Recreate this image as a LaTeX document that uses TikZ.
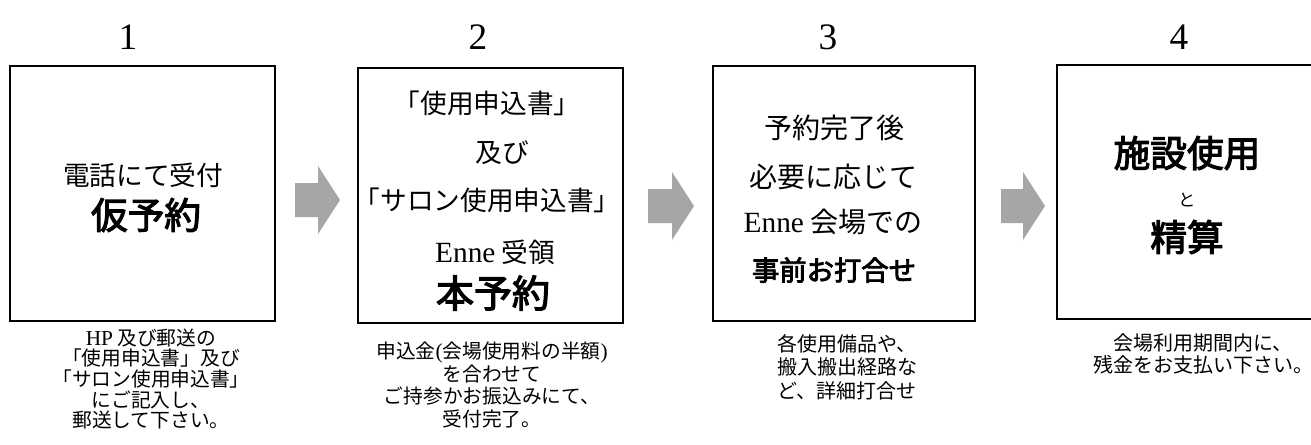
\documentclass[tikz,border=0pt]{standalone}
\usepackage{fontspec}
\setmainfont{Liberation Serif}
\newfontfamily\jp{Noto Sans CJK JP}
\newfontfamily\jpm[FakeBold=3]{Noto Sans CJK JP}
\newfontfamily\lat{Liberation Serif}
\definecolor{arrowgray}{HTML}{A6A6A6}
\newcommand\blockarrow[4]{% name, left x, center y, head start
  \fill[arrowgray] (#2,#3-17) -- (#4,#3-17) -- (#4,#3-34) -- (#4+22,#3) -- (#4,#3+34) -- (#4,#3+17) -- (#2,#3+17) -- cycle;
  \coordinate (#1) at (#2+22,#3);
}
\tikzset{
  box/.style={draw=black, line width=2pt, inner sep=0pt, fill=white},
  numtext/.style={font=\lat\fontsize{28pt}{30pt}\selectfont, inner sep=0pt},
  bt/.style={font=\jp\fontsize{20pt}{24pt}\selectfont, inner sep=0pt},
  bttwo/.style={font=\jp\fontsize{20pt}{24pt}\selectfont, inner sep=0pt},
  bigtext/.style={font=\jpm\fontsize{27.5pt}{32pt}\selectfont, inner sep=0pt},
  smalltext/.style={font=\jp\fontsize{13pt}{14pt}\selectfont, inner sep=0pt},
  captext/.style={align=center, inner sep=0pt},
}
\newcommand\En{{\lat\fontsize{22pt}{24pt}\selectfont Enne}}
\newcommand\HP{{\lat\fontsize{16pt}{16pt}\selectfont HP}}
\begin{document}
\begin{tikzpicture}[x=0.75pt, y=-0.75pt]
\useasboundingbox (0,0) rectangle (1311,444);
\clip (0,0) rectangle (1311,444);
\fill[white] (0,0) rectangle (1311,444);

% numbers
\node[numtext] (n1) at (128,37) {1};
\node[numtext] (n2) at (478,37) {2};
\node[numtext] (n3) at (828,37) {3};
\node[numtext] (n4) at (1179,37) {4};

% boxes
\node[box, minimum width=265*0.75pt, minimum height=255*0.75pt] (b1) at (142.5,193.5) {};
\node[box, minimum width=265*0.75pt, minimum height=255*0.75pt] (b2) at (490.5,195.5) {};
\node[box, minimum width=262*0.75pt, minimum height=255*0.75pt] (b3) at (844,193.5) {};
\node[box, minimum width=265*0.75pt, minimum height=254*0.75pt] (b4) at (1189.5,192) {};

% arrows
\blockarrow{a1}{295}{200}{318}
\blockarrow{a2}{648}{206}{672}
\blockarrow{a3}{1001}{206}{1023}

% box 1
\node[bt] (t11) at (143,175) {電話にて受付};
\node[bigtext] (t12) at (146,215) {仮予約};

% box 2
\node[bttwo] (t21) at (487,103) {「使用申込書」};
\node[bttwo] (t22) at (502,153) {及び};
\node[bttwo] (t23) at (487,200) {「サロン使用申込書」};
\node[bttwo] (t24) at (495,252) {\En\ 受領};
\node[bigtext, font=\jpm\fontsize{28.5pt}{32pt}\selectfont] (t25) at (493,293) {本予約};

% box 3
\node[bt, font=\jp\fontsize{21pt}{24pt}\selectfont] (t31) at (834,128) {予約完了後};
\node[bt, font=\jp\fontsize{21pt}{24pt}\selectfont] (t32) at (833,177) {必要に応じて};
\node[bt, font=\jp\fontsize{21pt}{24pt}\selectfont] (t33) at (833,222) {\En\ 会場での};
\node[bt, font=\jpm\fontsize{20.5pt}{24pt}\selectfont] (t34) at (834,270) {事前お打合せ};

% box 4
\node[bigtext] (t41) at (1187,153) {施設使用};
\node[smalltext] (t42) at (1187,200) {と};
\node[bigtext] (t43) at (1187,237) {精算};

% captions
\node[captext, font=\jp\fontsize{14.8pt}{15.4pt}\selectfont] (c1) at (151,379)
  {\HP\ 及び郵送の\\「使用申込書」及び\\「サロン使用申込書」\\にご記入し、\\郵送して下さい。};
\node[captext, font=\jp\fontsize{14.8pt}{17pt}\selectfont] (c2) at (492,385)
  {申込金{\lat\fontsize{16pt}{16pt}\selectfont (}会場使用料の半額{\lat\fontsize{16pt}{16pt}\selectfont )}\\を合わせて\\ご持参かお振込みにて、\\受付完了。};
\node[captext, font=\jp\fontsize{15pt}{17.6pt}\selectfont] (c3) at (847,367)
  {各使用備品や、\\搬入搬出経路な\\ど、詳細打合せ};
\node[captext, font=\jp\fontsize{15pt}{16.5pt}\selectfont] (c4) at (1203,354)
  {会場利用期間内に、\\残金をお支払い下さい。};
\end{tikzpicture}
\end{document}
